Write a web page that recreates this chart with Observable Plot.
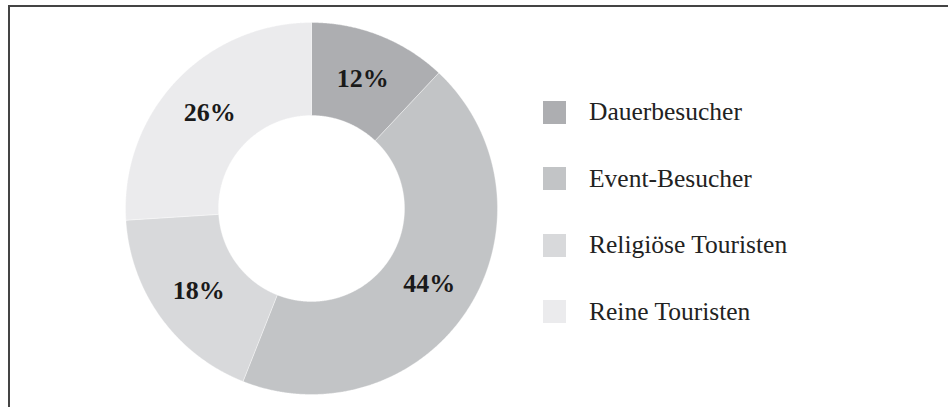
<!DOCTYPE html>
<html>
<head>
<meta charset="utf-8">
<script src="https://cdn.jsdelivr.net/npm/d3@7"></script>
<script src="https://cdn.jsdelivr.net/npm/@observablehq/plot@0.6"></script>
<style>
  html, body { margin: 0; padding: 0; background: #fff; }
  #wrap { position: relative; width: 948px; height: 407px; overflow: hidden; }
  #frame { position: absolute; left: 8px; top: 5px; width: 1000px; height: 500px;
           border-left: 2px solid #444; border-top: 2px solid #444; }
  #chart { position: absolute; left: 0; top: 0; }
  #legend { position: absolute; left: 543px; top: 100px; font-family: "Liberation Serif", "Times New Roman", serif;
            font-size: 25.5px; color: #222; }
  .item { position: absolute; left: 0; display: flex; align-items: center; white-space: nowrap; height: 24px; }
  .sw { width: 23px; height: 23px; margin-right: 23px; flex: none; }
</style>
</head>
<body>
<div id="wrap">
  <div id="frame"></div>
  <div id="chart"></div>
  <div id="legend"></div>
</div>
<script>
const categories = ["Dauerbesucher", "Event-Besucher", "Religiöse Touristen", "Reine Touristen"];
const shares = [12, 44, 18, 26];
const labels = ["12%", "44%", "18%", "26%"];
const colors = ["#adaeb1", "#c2c4c6", "#d8d9db", "#ebebed"];

const innerRatio = 0.5;
const labelRatio = 0.75;

const pie = d3.pie().sort(null).value(d => d)(shares);

// polygon outline of each ring sector, in unit coordinates (angle 0 at top, clockwise)
const polys = [];
pie.forEach((p, i) => {
  const n = Math.max(2, Math.ceil((p.endAngle - p.startAngle) / 0.005));
  const pts = [];
  for (let k = 0; k <= n; k++) {
    const a = p.startAngle + (p.endAngle - p.startAngle) * k / n;
    pts.push({x: Math.sin(a), y: Math.cos(a)});
  }
  for (let k = n; k >= 0; k--) {
    const a = p.startAngle + (p.endAngle - p.startAngle) * k / n;
    pts.push({x: innerRatio * Math.sin(a), y: innerRatio * Math.cos(a)});
  }
  pts.push(pts[0]);
  pts.forEach(q => polys.push({...q, cat: categories[i]}));
});

const labelData = pie.map((p, i) => {
  const a = (p.startAngle + p.endAngle) / 2;
  return {x: labelRatio * Math.sin(a), y: labelRatio * Math.cos(a), label: labels[i]};
});

const chart = Plot.plot({
  width: 948,
  height: 407,
  marginLeft: 125,
  marginRight: 451,
  marginTop: 22,
  marginBottom: 13,
  x: {domain: [-1, 1], axis: null},
  y: {domain: [-1, 1], axis: null},
  color: {domain: categories, range: colors},
  marks: [
    Plot.line(polys, {x: "x", y: "y", z: "cat", fill: "cat", stroke: "#fff", strokeWidth: 0.6, strokeOpacity: 0.6, curve: "linear"}),
    Plot.text(labelData, {x: "x", y: "y", text: "label", fontSize: 26, fontWeight: "bold",
      fontFamily: "Liberation Serif, Times New Roman, serif", fill: "#1a1a1a"})
  ],
  style: {background: "transparent", overflow: "visible"}
});
document.getElementById("chart").appendChild(chart);

const legend = document.getElementById("legend");
categories.forEach((c, i) => {
  const item = document.createElement("div");
  item.className = "item";
  item.style.top = (i * 66.5) + "px";
  const sw = document.createElement("div");
  sw.className = "sw";
  sw.style.background = colors[i];
  const t = document.createElement("span");
  t.textContent = c;
  item.appendChild(sw);
  item.appendChild(t);
  legend.appendChild(item);
});
</script>
</body>
</html>
